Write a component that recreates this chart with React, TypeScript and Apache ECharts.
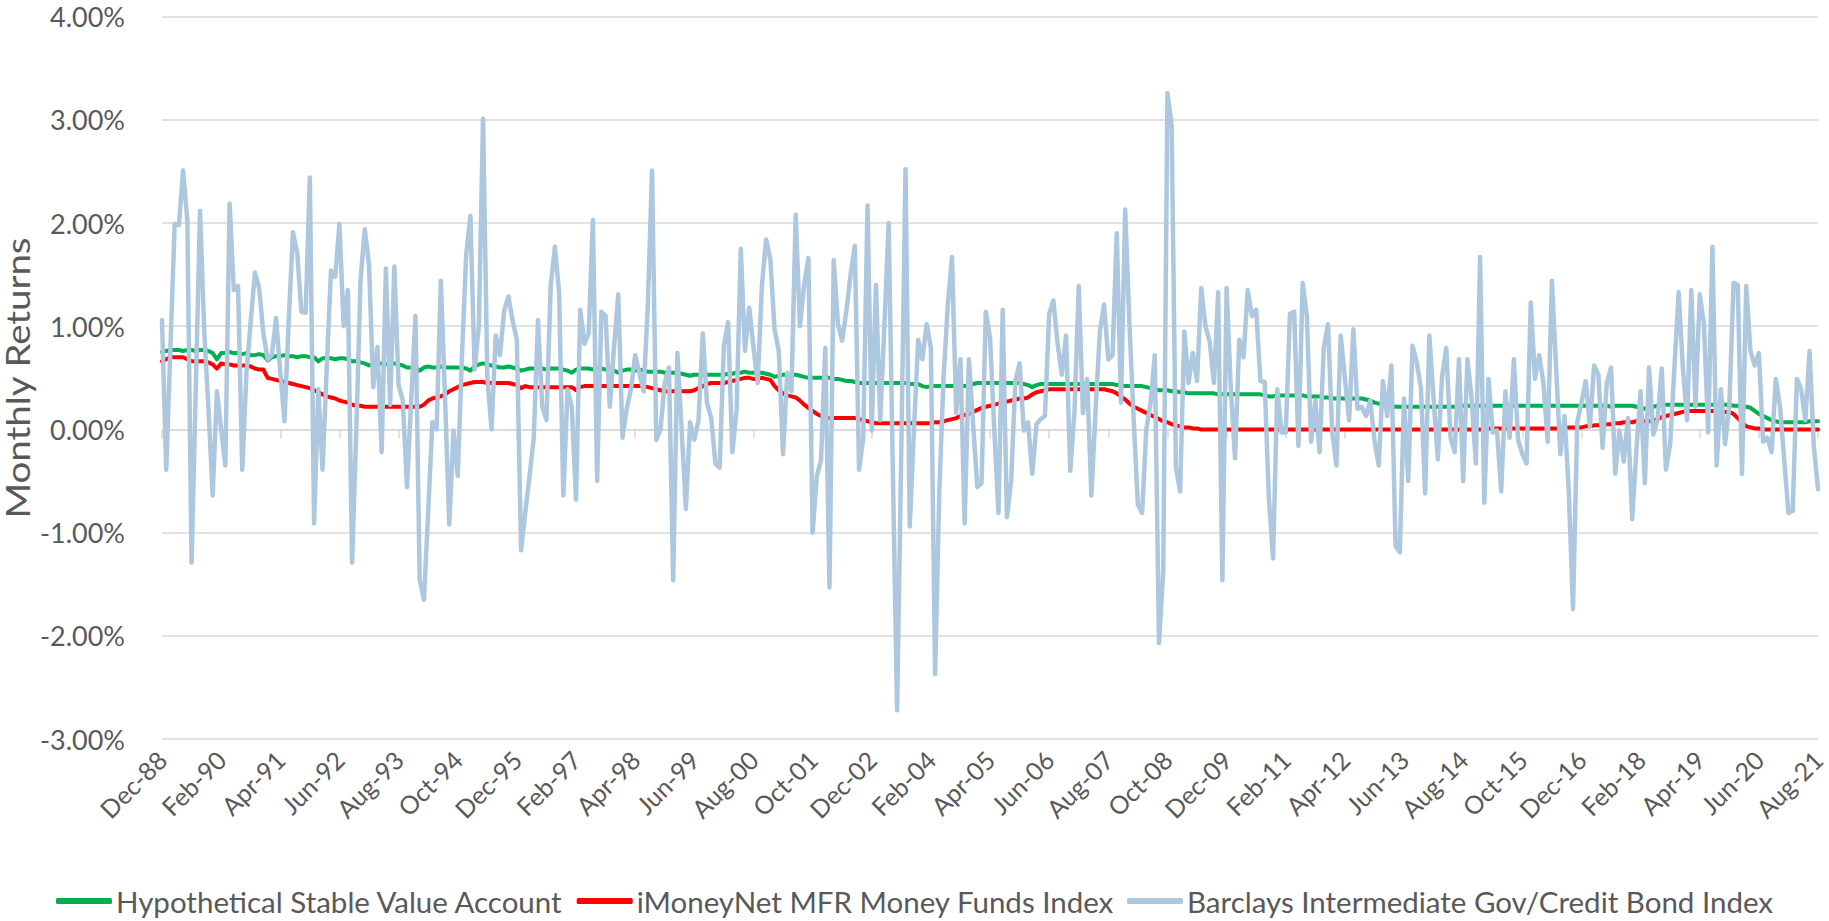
import React, { useEffect, useRef } from "react";
import * as echarts from "echarts";

const MONTHS = ["Jan", "Feb", "Mar", "Apr", "May", "Jun", "Jul", "Aug", "Sep", "Oct", "Nov", "Dec"];
const START_YEAR = 1988;
const START_MONTH = 11; // Dec
const COUNT = 393; // Dec-88 .. Aug-21

const categories: string[] = Array.from({ length: COUNT }, (_, k) => {
  const m = (START_MONTH + k) % 12;
  const y = START_YEAR + Math.floor((START_MONTH + k) / 12);
  return `${MONTHS[m]}-${String(y % 100).padStart(2, "0")}`;
});

const seriesNames = [
  "Hypothetical Stable Value Account",
  "iMoneyNet MFR Money Funds Index",
  "Barclays Intermediate Gov/Credit Bond Index",
];

const stableValue = [
  0.75, 0.76, 0.77, 0.77, 0.77, 0.76, 0.77, 0.77, 0.76, 0.77, 0.77, 0.76,
  0.74, 0.68, 0.74, 0.74, 0.75, 0.74, 0.74, 0.73, 0.74, 0.72, 0.72, 0.73,
  0.72, 0.67, 0.70, 0.71, 0.71, 0.72, 0.71, 0.71, 0.70, 0.71, 0.71, 0.70,
  0.70, 0.66, 0.69, 0.69, 0.69, 0.68, 0.69, 0.69, 0.68, 0.66, 0.66, 0.65,
  0.64, 0.62, 0.64, 0.64, 0.64, 0.63, 0.64, 0.64, 0.63, 0.62, 0.60, 0.60,
  0.60, 0.57, 0.60, 0.61, 0.60, 0.60, 0.61, 0.60, 0.60, 0.60, 0.60, 0.60,
  0.59, 0.57, 0.61, 0.63, 0.64, 0.63, 0.62, 0.61, 0.60, 0.60, 0.61, 0.60,
  0.59, 0.57, 0.58, 0.59, 0.59, 0.59, 0.59, 0.58, 0.59, 0.59, 0.59, 0.58,
  0.57, 0.55, 0.58, 0.59, 0.59, 0.59, 0.58, 0.59, 0.59, 0.58, 0.58, 0.57,
  0.55, 0.57, 0.58, 0.58, 0.57, 0.58, 0.57, 0.56, 0.56, 0.56, 0.56, 0.55,
  0.55, 0.55, 0.55, 0.54, 0.53, 0.52, 0.53, 0.53, 0.53, 0.53, 0.53, 0.53,
  0.53, 0.53, 0.54, 0.54, 0.55, 0.55, 0.56, 0.55, 0.55, 0.55, 0.55, 0.54,
  0.53, 0.51, 0.52, 0.53, 0.53, 0.53, 0.53, 0.52, 0.51, 0.50, 0.50, 0.50,
  0.50, 0.50, 0.50, 0.49, 0.49, 0.48, 0.47, 0.47, 0.46, 0.45, 0.45, 0.45,
  0.45, 0.45, 0.45, 0.45, 0.45, 0.45, 0.45, 0.45, 0.45, 0.44, 0.44, 0.44,
  0.42, 0.41, 0.42, 0.42, 0.42, 0.42, 0.42, 0.42, 0.42, 0.42, 0.42, 0.43,
  0.44, 0.45, 0.45, 0.45, 0.45, 0.45, 0.45, 0.45, 0.45, 0.45, 0.45, 0.45,
  0.44, 0.43, 0.41, 0.43, 0.44, 0.44, 0.44, 0.44, 0.44, 0.44, 0.44, 0.44,
  0.44, 0.44, 0.44, 0.44, 0.44, 0.44, 0.44, 0.44, 0.44, 0.44, 0.43, 0.43,
  0.42, 0.42, 0.42, 0.42, 0.42, 0.41, 0.40, 0.39, 0.38, 0.38, 0.38, 0.37,
  0.37, 0.36, 0.36, 0.35, 0.35, 0.35, 0.35, 0.35, 0.35, 0.35, 0.34, 0.34,
  0.34, 0.34, 0.34, 0.34, 0.34, 0.34, 0.34, 0.34, 0.34, 0.33, 0.32, 0.32,
  0.33, 0.33, 0.33, 0.33, 0.33, 0.33, 0.33, 0.32, 0.32, 0.32, 0.32, 0.31,
  0.31, 0.30, 0.30, 0.30, 0.30, 0.30, 0.30, 0.30, 0.30, 0.29, 0.28, 0.26,
  0.25, 0.24, 0.24, 0.23, 0.22, 0.22, 0.22, 0.22, 0.22, 0.22, 0.22, 0.22,
  0.22, 0.22, 0.22, 0.22, 0.22, 0.22, 0.22, 0.22, 0.23, 0.23, 0.23, 0.23,
  0.23, 0.23, 0.23, 0.23, 0.23, 0.23, 0.23, 0.23, 0.23, 0.23, 0.23, 0.23,
  0.23, 0.23, 0.23, 0.23, 0.23, 0.23, 0.23, 0.23, 0.23, 0.23, 0.23, 0.23,
  0.23, 0.23, 0.22, 0.23, 0.23, 0.23, 0.23, 0.22, 0.23, 0.23, 0.23, 0.23,
  0.23, 0.22, 0.21, 0.20, 0.21, 0.22, 0.23, 0.24, 0.24, 0.24, 0.24, 0.24,
  0.24, 0.24, 0.24, 0.24, 0.24, 0.24, 0.24, 0.24, 0.24, 0.24, 0.24, 0.24,
  0.23, 0.23, 0.22, 0.22, 0.21, 0.18, 0.15, 0.13, 0.11, 0.09, 0.08, 0.07,
  0.07, 0.07, 0.07, 0.07, 0.07, 0.07, 0.08, 0.08, 0.08,
];

const moneyFund = [
  0.66, 0.68, 0.70, 0.70, 0.70, 0.70, 0.68, 0.66, 0.66, 0.66, 0.66, 0.65,
  0.63, 0.59, 0.64, 0.63, 0.63, 0.62, 0.62, 0.62, 0.62, 0.61, 0.59, 0.58,
  0.58, 0.50, 0.49, 0.48, 0.47, 0.46, 0.45, 0.44, 0.43, 0.42, 0.41, 0.40,
  0.38, 0.36, 0.34, 0.32, 0.31, 0.30, 0.28, 0.27, 0.26, 0.24, 0.23, 0.23,
  0.22, 0.22, 0.22, 0.22, 0.22, 0.22, 0.22, 0.22, 0.22, 0.22, 0.22, 0.22,
  0.22, 0.22, 0.24, 0.28, 0.30, 0.31, 0.32, 0.34, 0.37, 0.39, 0.41, 0.43,
  0.44, 0.45, 0.46, 0.46, 0.46, 0.45, 0.45, 0.45, 0.45, 0.45, 0.45, 0.44,
  0.43, 0.40, 0.42, 0.41, 0.41, 0.41, 0.41, 0.41, 0.41, 0.41, 0.41, 0.41,
  0.41, 0.41, 0.38, 0.41, 0.42, 0.42, 0.42, 0.42, 0.42, 0.42, 0.42, 0.42,
  0.42, 0.42, 0.42, 0.42, 0.42, 0.42, 0.42, 0.41, 0.40, 0.39, 0.38, 0.37,
  0.37, 0.37, 0.37, 0.37, 0.37, 0.37, 0.38, 0.40, 0.42, 0.44, 0.45, 0.45,
  0.45, 0.45, 0.46, 0.47, 0.48, 0.49, 0.50, 0.50, 0.49, 0.49, 0.50, 0.49,
  0.48, 0.42, 0.38, 0.35, 0.33, 0.32, 0.31, 0.28, 0.24, 0.21, 0.18, 0.15,
  0.13, 0.12, 0.11, 0.11, 0.11, 0.11, 0.11, 0.11, 0.11, 0.10, 0.09, 0.08,
  0.07, 0.06, 0.06, 0.06, 0.06, 0.06, 0.06, 0.06, 0.06, 0.06, 0.06, 0.06,
  0.06, 0.06, 0.06, 0.07, 0.07, 0.08, 0.09, 0.10, 0.11, 0.13, 0.14, 0.15,
  0.17, 0.19, 0.21, 0.22, 0.23, 0.24, 0.25, 0.26, 0.27, 0.28, 0.29, 0.30,
  0.30, 0.31, 0.34, 0.36, 0.37, 0.38, 0.39, 0.39, 0.39, 0.39, 0.39, 0.39,
  0.39, 0.39, 0.39, 0.39, 0.39, 0.39, 0.39, 0.39, 0.38, 0.37, 0.35, 0.32,
  0.29, 0.25, 0.22, 0.20, 0.18, 0.16, 0.14, 0.12, 0.10, 0.08, 0.07, 0.05,
  0.04, 0.03, 0.02, 0.02, 0.01, 0.01, 0.00, 0.00, 0.00, 0.00, 0.00, 0.00,
  0.00, 0.00, 0.00, 0.00, 0.00, 0.00, 0.00, 0.00, 0.00, 0.00, 0.00, 0.00,
  0.00, 0.00, 0.00, 0.00, 0.00, 0.00, 0.00, 0.00, 0.00, 0.00, 0.00, 0.00,
  0.00, 0.00, 0.00, 0.00, 0.00, 0.00, 0.00, 0.00, 0.00, 0.00, 0.00, 0.00,
  0.00, 0.00, 0.00, 0.00, 0.00, 0.00, 0.00, 0.00, 0.00, 0.00, 0.00, 0.00,
  0.00, 0.00, 0.00, 0.00, 0.00, 0.00, 0.00, 0.00, 0.00, 0.00, 0.00, 0.00,
  0.00, 0.00, 0.01, 0.01, 0.01, 0.01, 0.01, 0.01, 0.01, 0.01, 0.01, 0.01,
  0.01, 0.01, 0.01, 0.01, 0.01, 0.01, 0.01, 0.01, 0.02, 0.02, 0.02, 0.02,
  0.02, 0.03, 0.03, 0.04, 0.04, 0.04, 0.05, 0.05, 0.06, 0.06, 0.07, 0.07,
  0.07, 0.08, 0.08, 0.08, 0.08, 0.09, 0.10, 0.12, 0.13, 0.14, 0.15, 0.16,
  0.17, 0.18, 0.18, 0.18, 0.18, 0.18, 0.18, 0.18, 0.18, 0.18, 0.17, 0.17,
  0.15, 0.11, 0.07, 0.03, 0.02, 0.01, 0.01, 0.00, 0.00, 0.00, 0.00, 0.00,
  0.00, 0.00, 0.00, 0.00, 0.00, 0.00, 0.00, 0.00, 0.00,
];

const bondIndex = [
  1.06, -0.39, 0.80, 1.99, 1.98, 2.51, 2.02, -1.29, 0.40, 2.12, 0.95, 0.20,
  -0.64, 0.37, 0.00, -0.35, 2.19, 1.35, 1.39, -0.39, 0.55, 1.05, 1.52, 1.37,
  0.93, 0.68, 0.72, 1.08, 0.55, 0.08, 1.06, 1.91, 1.71, 1.14, 1.13, 2.44,
  -0.91, 0.39, -0.39, 0.60, 1.54, 1.48, 1.99, 1.00, 1.35, -1.29, 0.00, 1.45,
  1.94, 1.60, 0.41, 0.80, -0.22, 1.56, 0.24, 1.58, 0.43, 0.28, -0.56, 0.30,
  1.10, -1.46, -1.65, -0.80, 0.07, 0.00, 1.44, 0.30, -0.92, -0.01, -0.45, 0.70,
  1.69, 2.07, 0.58, 1.00, 3.01, 0.51, 0.00, 0.91, 0.72, 1.15, 1.29, 1.05,
  0.87, -1.17, -0.80, -0.45, -0.08, 1.06, 0.22, 0.09, 1.39, 1.77, 1.33, -0.64,
  0.39, 0.22, -0.68, 1.16, 0.83, 0.93, 2.03, -0.50, 1.14, 1.10, 0.22, 0.80,
  1.31, -0.08, 0.20, 0.39, 0.72, 0.55, 0.37, 1.20, 2.51, -0.10, 0.00, 0.45,
  0.60, -1.46, 0.74, 0.00, -0.77, 0.07, -0.10, 0.09, 0.93, 0.26, 0.11, -0.33,
  -0.37, 0.81, 1.04, -0.22, 0.18, 1.75, 0.76, 1.18, 0.80, 0.45, 1.39, 1.84,
  1.65, 0.97, 0.76, -0.24, 0.55, 0.37, 2.08, 1.00, 1.40, 1.66, -1.00, -0.45,
  -0.30, 0.79, -1.53, 1.64, 1.02, 0.86, 1.15, 1.50, 1.78, -0.39, -0.08, 2.17,
  -0.01, 1.40, 0.09, 1.00, 2.00, -0.40, -2.72, -0.20, 2.52, -0.94, 0.00, 0.87,
  0.68, 1.02, 0.79, -2.37, -0.60, 0.50, 1.20, 1.67, 0.16, 0.68, -0.91, 0.68,
  0.05, -0.56, -0.52, 1.14, 0.89, 0.00, -0.81, 1.16, -0.85, -0.50, 0.47, 0.64,
  -0.01, 0.07, -0.43, 0.05, 0.10, 0.13, 1.12, 1.25, 0.83, 0.53, 0.91, -0.40,
  0.18, 1.39, 0.16, 0.49, -0.64, 0.20, 0.95, 1.21, 0.68, 0.72, 1.90, 0.26,
  2.13, 1.02, 0.10, -0.73, -0.81, 0.00, 0.25, 0.72, -2.07, -1.38, 3.26, 2.95,
  -0.37, -0.60, 0.95, 0.45, 0.74, 0.47, 1.37, 1.00, 0.85, 0.45, 1.33, -1.46,
  1.37, 0.39, -0.28, 0.87, 0.70, 1.35, 1.10, 1.16, 0.47, 0.46, -0.66, -1.25,
  0.39, -0.03, -0.03, 1.12, 1.14, -0.16, 1.42, 1.10, -0.12, 0.28, -0.22, 0.79,
  1.02, -0.03, -0.35, 0.91, 0.50, 0.09, 0.97, 0.20, 0.22, 0.13, 0.28, -0.10,
  -0.35, 0.47, 0.13, 0.62, -1.13, -1.19, 0.30, -0.50, 0.81, 0.65, 0.40, -0.62,
  0.91, 0.30, -0.29, 0.51, 0.79, -0.08, -0.22, 0.68, -0.50, 0.68, 0.30, -0.33,
  1.67, -0.71, 0.49, -0.03, -0.01, -0.60, 0.37, -0.08, 0.68, -0.10, -0.24, -0.33,
  1.23, 0.49, 0.72, 0.45, -0.12, 1.44, 0.60, -0.24, 0.13, -0.60, -1.74, 0.07,
  0.26, 0.47, 0.03, 0.62, 0.53, -0.18, 0.45, 0.60, -0.43, -0.01, -0.31, 0.11,
  -0.87, -0.20, 0.37, -0.52, 0.60, -0.05, 0.09, 0.59, -0.39, -0.14, 0.60, 1.33,
  0.60, 0.09, 1.35, 0.22, 1.31, 1.02, -0.03, 1.77, -0.35, 0.39, -0.14, 0.22,
  1.42, 1.40, -0.43, 1.39, 0.76, 0.62, 0.74, -0.12, -0.08, -0.22, 0.49, 0.22,
  -0.30, -0.81, -0.79, 0.49, 0.39, 0.09, 0.76, -0.16, -0.58,
];

const Y_MIN = -3;
const Y_MAX = 4;
const Y_STEP = 1;
const LABEL_EVERY = 14;

const FONT = "Lato";
const TEXT_COLOR = "#595959";
const GRID_COLOR = "#D9D9D9";
const COLORS = ["#00B050", "#FF0000", "#ADC8DE"];

export default function App() {
  const ref = useRef<HTMLDivElement>(null);

  useEffect(() => {
    if (!ref.current) return;
    const chart = echarts.init(ref.current, null, { renderer: "svg" });
    const lineSeries = (name: string, data: number[], color: string, width: number) => ({
      name,
      type: "line",
      data,
      xAxisIndex: 0,
      yAxisIndex: 0,
      symbol: "none",
      showSymbol: false,
      lineStyle: { color, width, cap: "round", join: "round" },
      itemStyle: { color },
      emphasis: { disabled: true },
    });
    chart.setOption({
      animation: false,
      backgroundColor: "#ffffff",
      textStyle: { fontFamily: FONT },
      grid: { left: 162, right: 3, top: 16.6, bottom: 181.9, containLabel: false },
      legend: {
        data: seriesNames,
        left: "center",
        top: 886,
        padding: 0,
        icon: "roundRect",
        itemWidth: 56,
        itemHeight: 6,
        itemGap: 13,
        textStyle: { fontFamily: FONT, fontSize: 29.5, color: TEXT_COLOR, lineHeight: 30, padding: [0, 0, 0, -1] },
      },
      xAxis: [
        {
          type: "category",
          data: categories,
          boundaryGap: false,
          position: "bottom",
          axisLine: { show: false, onZero: false },
          axisTick: { show: false },
          splitLine: { show: false },
          axisLabel: {
            interval: LABEL_EVERY - 1,
            rotate: 45,
            margin: 16,
            color: TEXT_COLOR,
            fontFamily: FONT,
            fontSize: 25,
          },
        },
        {
          type: "category",
          data: categories,
          boundaryGap: false,
          position: "top",
          axisLine: { show: true, onZero: true, lineStyle: { color: GRID_COLOR, width: 1.5 } },
          axisTick: {
            show: true,
            inside: true,
            length: 9,
            interval: LABEL_EVERY - 1,
            lineStyle: { color: GRID_COLOR, width: 1.5 },
          },
          axisLabel: { show: false },
          splitLine: { show: false },
        },
      ],
      yAxis: {
        type: "value",
        min: Y_MIN,
        max: Y_MAX,
        interval: Y_STEP,
        axisLine: { show: false },
        axisTick: { show: false },
        splitLine: { lineStyle: { color: GRID_COLOR, width: 1.5 } },
        axisLabel: {
          margin: 37,
          color: TEXT_COLOR,
          fontFamily: FONT,
          fontSize: 27,
          formatter: (v: number) => `${v.toFixed(2)}%`,
        },
      },
      graphic: [
        {
          type: "text",
          x: 18,
          y: 378,
          rotation: Math.PI / 2,
          scaleX: 1.2,
          style: {
            text: "Monthly Returns",
            fill: TEXT_COLOR,
            font: `32px ${FONT}`,
            align: "center",
            verticalAlign: "middle",
          },
        },
      ],
      series: [
        lineSeries(seriesNames[0], stableValue, COLORS[0], 4),
        lineSeries(seriesNames[1], moneyFund, COLORS[1], 4),
        lineSeries(seriesNames[2], bondIndex, COLORS[2], 4.5),
      ],
    });
    return () => chart.dispose();
  }, []);

  return (
    <div
      ref={ref}
      style={{ position: "fixed", left: 0, top: 0, width: 1829, height: 921, background: "#fff" }}
    />
  );
}
